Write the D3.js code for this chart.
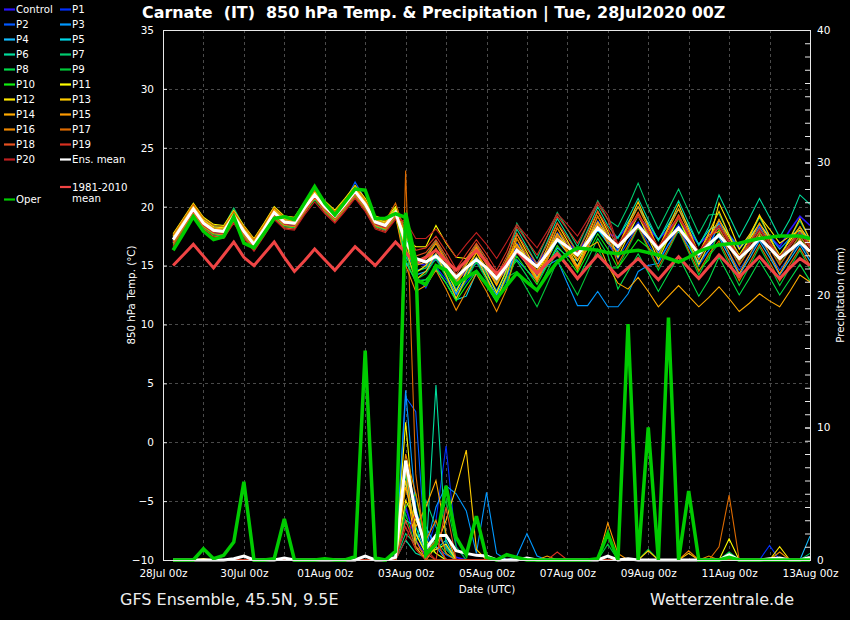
<!DOCTYPE html>
<html>
<head>
<meta charset="utf-8">
<script src="https://cdn.jsdelivr.net/npm/d3@7"></script>
<style>
  body { margin: 0; background: #000; }
  svg { display: block; font-family: "DejaVu Sans", sans-serif; }
</style>
</head>
<body>
<svg id="chart" width="850" height="620"></svg>
<script>
// forecast steps, hours after 28Jul2020 00Z
const HOURS = [6,12,18,24,30,36,42,48,54,60,66,72,78,84,90,96,102,108,114,120,126,132,138,
  144,150,156,162,168,174,180,186,192,198,204,210,216,222,228,234,240,246,252,258,264,270,276,282,288,
  294,300,306,312,318,324,330,336,342,348,354,360,366,372,378,384];

// 850 hPa temperature (°C)
const T_CONTROL = [17.0,18.3,19.6,18.4,17.8,17.7,19.0,17.7,16.6,17.9,19.3,18.5,18.4,19.7,20.8,19.8,19.0,20.0,21.1,20.0,18.5,18.2,19.3,
  17.3,15.3,15.0,15.5,14.7,13.7,14.5,15.2,14.5,13.6,14.7,16.6,15.9,15.2,16.3,17.5,16.9,16.2,17.3,18.5,17.7,
  17.4,18.3,19.2,18.2,17.2,18.1,19.0,17.9,16.8,17.6,18.6,17.6,16.6,17.4,18.3,17.5,16.6,18.0,19.2,18.4];
const T_P1 = [17.3,18.6,19.9,18.7,18.1,18.0,19.3,18.0,16.9,18.2,19.6,18.8,18.7,20.0,21.1,20.1,19.3,20.3,21.4,20.3,18.8,18.5,19.6,
  16.0,14.1,13.1,14.9,13.8,12.5,13.6,14.6,13.6,12.4,13.8,16.9,15.9,14.9,16.3,17.8,16.9,15.9,17.3,18.8,17.7,
  16.3,17.5,18.7,17.4,16.1,17.3,18.5,17.1,15.7,16.8,18.4,17.1,15.8,16.9,18.1,17.0,15.8,16.8,17.8,16.7];
const T_P2 = [17.1,18.4,19.7,18.5,17.9,17.8,19.1,17.8,16.7,18.0,19.4,18.6,18.5,19.8,20.9,19.9,19.1,20.4,22.1,20.6,18.4,18.0,19.2,
  16.2,14.6,14.8,15.8,14.5,13.0,14.3,15.5,14.3,12.9,14.5,16.3,15.1,13.9,15.5,17.2,16.1,14.9,16.5,18.2,16.9,
  15.6,17.0,18.4,16.9,15.4,16.8,18.2,16.6,15.0,16.3,17.6,16.1,14.6,15.9,17.3,16.0,14.6,15.8,17.0,15.7];
const T_P3 = [17.4,18.7,20.0,18.8,18.2,18.1,19.4,18.1,17.0,18.3,19.7,18.9,18.8,20.1,21.2,20.2,19.4,20.4,21.5,20.4,18.9,18.6,19.7,
  15.0,15.4,15.3,16.0,15.0,13.8,14.8,15.7,14.8,13.7,15.0,15.5,14.6,13.7,15.0,15.5,13.5,11.6,11.6,12.8,11.5,
  11.5,12.6,14.5,15.0,15.2,16.8,17.9,16.6,15.3,16.3,18.8,17.6,16.4,17.4,18.5,17.5,16.4,17.3,18.2,17.2];
const T_P4 = [16.9,18.2,19.5,18.3,17.7,17.6,18.9,17.6,16.5,17.8,19.2,18.4,18.3,19.6,20.7,19.7,18.9,19.9,21.0,19.9,18.4,18.1,19.2,
  15.8,14.2,14.5,15.6,14.2,12.6,14.0,15.3,14.0,12.5,14.2,16.2,15.5,14.0,15.0,16.5,15.8,15.4,16.8,18.0,17.0,
  16.2,17.7,19.2,17.6,16.0,17.5,19.0,17.3,15.6,17.0,17.4,15.8,14.2,15.6,17.1,15.7,14.2,15.5,16.8,15.4];
const T_P5 = [17.5,18.8,20.1,18.9,18.3,18.2,19.5,18.2,17.1,18.4,19.8,19.0,18.9,20.2,21.3,20.3,19.5,20.5,21.6,20.5,19.0,18.7,19.8,
  15.3,13.7,13.8,14.7,13.5,12.1,12.4,14.4,13.3,12.0,13.5,16.2,15.1,14.0,15.5,17.1,16.1,15.0,16.5,18.1,16.9,
  17.4,18.7,20.0,18.6,17.2,18.5,19.8,18.3,16.8,18.0,18.5,17.1,15.7,16.9,18.2,17.0,15.7,16.8,17.9,16.7];
const T_P6 = [17.2,18.5,19.8,18.6,18.0,17.9,19.2,17.9,16.8,18.1,19.5,18.7,18.6,19.9,21.0,20.0,19.2,20.2,21.3,20.2,18.7,18.4,19.5,
  17.5,15.3,15.8,17.1,15.5,13.7,15.3,16.8,15.3,13.6,15.5,18.1,16.6,15.1,17.0,19.0,17.6,16.1,18.0,20.0,18.4,
  17.3,19.0,20.7,18.9,17.1,18.8,20.5,18.6,16.7,18.3,21.0,19.2,17.4,19.0,20.7,19.1,17.4,18.9,21.0,20.2];
const T_P7 = [17.6,18.9,20.2,19.0,18.4,18.3,19.9,18.3,17.2,18.5,19.9,19.1,19.0,20.3,21.4,20.4,19.6,20.6,21.7,20.6,19.1,18.8,19.9,
  18.0,15.1,15.6,16.9,15.3,13.5,15.1,16.6,15.1,13.4,15.3,18.6,17.1,15.6,17.5,19.5,18.1,16.6,18.5,20.5,18.9,
  18.3,20.0,22.0,19.9,18.1,19.8,21.5,19.6,17.7,19.3,19.4,17.6,15.8,17.4,19.1,17.5,15.8,17.3,18.8,17.2];
const T_P8 = [16.8,18.1,19.4,18.2,17.6,17.5,18.8,17.5,16.4,17.7,19.1,18.3,18.2,19.5,20.6,19.6,18.8,19.8,20.9,19.8,18.3,18.0,19.1,
  16.5,14.5,14.8,15.9,14.5,12.9,14.3,15.6,14.3,12.8,14.5,15.4,14.1,12.8,14.5,16.3,15.1,13.8,15.5,17.3,15.9,
  13.0,14.5,16.0,14.4,12.8,14.3,15.8,14.1,12.4,13.8,15.7,14.1,12.5,13.9,15.4,14.0,12.5,13.8,15.1,13.7];
const T_P9 = [17.4,18.7,20.0,18.8,18.2,18.1,19.4,18.1,17.0,18.3,19.7,18.9,18.8,20.1,21.2,20.2,19.4,20.4,21.5,20.4,18.9,18.6,19.7,
  16.0,13.8,14.3,15.6,14.0,12.2,13.8,15.3,13.8,12.1,14.0,14.5,13.0,11.5,13.4,15.4,14.0,12.5,14.4,16.4,14.8,
  14.8,16.5,18.2,16.4,14.6,16.3,18.0,16.1,14.2,15.8,16.9,15.1,13.3,14.9,16.6,15.0,13.3,14.8,16.3,14.7];
const T_P10 = [16.9,18.2,19.5,18.3,17.7,17.6,18.9,17.6,16.5,17.8,19.2,18.4,18.3,19.6,20.7,19.7,18.9,19.9,21.0,19.9,18.4,18.1,19.2,
  15.5,13.6,13.8,14.8,13.5,12.0,13.3,14.5,13.3,11.9,13.5,15.8,14.6,13.4,15.0,16.7,15.6,14.4,16.0,17.7,16.4,
  14.8,16.0,17.2,16.5,15.8,17.4,19.0,17.0,14.6,15.5,18.1,16.6,15.1,16.4,17.8,16.5,15.1,16.3,17.5,16.2];
const T_P11 = [17.7,19.0,20.3,19.1,18.5,18.4,19.7,18.4,17.3,18.6,20.0,19.2,19.1,20.4,21.5,20.5,19.7,20.7,21.8,20.7,19.2,18.9,20.0,
  17.3,16.6,16.6,18.4,16.9,15.7,15.6,16.5,15.3,13.9,15.5,16.8,15.6,14.4,16.0,17.7,16.6,15.4,17.0,18.7,17.4,
  16.6,18.0,19.4,17.9,16.4,17.8,19.2,17.6,16.0,17.3,18.9,17.4,15.9,17.2,18.6,17.3,15.9,17.1,18.3,17.0];
const T_P12 = [17.5,18.8,20.1,18.9,18.3,18.2,19.5,18.2,17.1,18.4,19.8,19.0,18.9,20.2,21.3,20.3,19.5,20.5,21.6,20.5,19.0,18.7,19.8,
  17.0,14.4,15.0,16.4,14.7,12.8,14.5,16.1,14.5,12.7,14.7,17.7,16.1,14.5,16.5,18.6,17.1,15.5,17.5,19.6,17.9,
  15.7,17.5,19.3,17.4,15.5,17.3,19.1,17.1,15.1,16.8,20.3,18.5,16.4,17.6,19.2,18.1,16.9,17.5,18.0,17.1];
const T_P13 = [17.1,18.4,19.7,18.5,17.9,17.8,19.1,17.8,16.7,18.0,19.4,18.6,18.5,19.8,20.9,19.9,19.1,20.1,21.2,20.1,18.6,18.3,19.4,
  16.4,13.8,14.5,16.0,14.2,12.2,14.0,15.7,14.0,12.1,14.2,17.3,15.6,13.9,16.0,18.2,16.6,14.9,17.0,19.2,17.4,
  16.6,18.5,20.4,18.4,16.4,18.3,20.2,18.1,16.0,17.8,19.6,17.6,15.6,17.4,19.3,17.5,15.6,17.3,19.0,17.2];
const T_P14 = [17.3,18.6,19.9,18.7,18.1,18.0,19.3,18.0,16.9,18.2,19.6,18.8,18.7,20.0,21.1,20.1,19.3,20.3,21.4,20.3,18.8,18.5,19.6,
  17.0,15.0,15.3,16.4,15.0,13.4,14.8,16.1,14.8,13.3,15.0,16.4,15.1,13.8,15.5,17.3,16.1,14.8,16.5,17.0,15.0,
  13.5,13.0,14.0,12.8,11.5,12.4,13.3,12.4,11.5,12.3,13.2,12.2,11.1,11.8,12.6,12.0,11.5,12.8,14.2,13.6];
const T_P15 = [17.4,18.7,20.0,18.8,18.2,18.1,19.4,18.1,17.0,18.3,19.7,18.9,18.8,20.1,21.2,20.2,19.4,20.4,21.5,20.4,18.9,18.6,19.7,
  17.8,15.1,15.6,16.9,15.3,13.5,15.1,16.6,15.1,13.4,15.3,16.8,15.3,13.8,15.7,17.7,16.3,14.8,16.7,18.7,17.1,
  16.6,18.3,20.0,18.2,16.4,18.1,19.8,17.9,16.0,17.6,17.9,16.1,14.3,15.9,17.6,16.0,14.3,15.8,17.3,15.7];
const T_P16 = [16.9,18.2,19.5,18.3,17.7,17.6,18.9,17.6,16.5,17.8,19.2,18.4,18.3,19.6,20.7,19.7,18.9,19.9,21.0,19.9,18.4,18.1,19.2,
  15.0,12.8,13.3,14.6,13.0,11.2,12.8,14.3,12.8,11.1,13.0,16.6,15.1,13.6,15.5,17.5,16.1,14.6,16.5,18.5,16.9,
  16.1,17.8,19.5,17.7,15.9,17.6,19.3,17.4,15.5,17.1,18.9,17.1,15.3,16.9,18.6,17.0,15.3,16.8,18.3,16.7];
const T_P17 = [17.6,18.9,20.2,19.0,18.4,18.3,19.6,18.3,17.2,18.5,19.9,19.1,19.0,20.3,21.4,20.4,19.6,20.6,21.7,20.6,19.1,18.8,20.3,
  17.8,15.4,15.8,17.0,15.5,13.8,15.3,16.7,15.3,13.7,15.5,17.3,15.9,14.5,16.3,18.2,16.9,15.5,17.3,19.2,17.7,
  15.1,16.7,18.3,16.6,14.9,16.5,18.1,16.3,14.5,16.0,17.1,15.4,13.7,15.2,16.8,15.3,13.7,15.1,16.5,15.0];
const T_P18 = [16.7,18.0,19.3,18.1,17.5,17.4,18.7,17.4,16.3,17.6,19.0,18.2,18.1,19.4,20.9,19.5,18.7,19.7,20.8,19.7,18.2,17.9,19.0,
  18.2,15.8,16.1,17.2,15.8,14.2,15.6,16.9,15.6,14.1,15.8,17.7,16.4,15.1,16.8,18.6,17.4,16.1,17.8,19.6,18.2,
  16.5,18.0,19.5,17.9,16.3,17.8,19.3,17.6,15.9,17.3,18.2,16.6,15.0,16.4,17.9,16.5,15.0,16.3,17.6,16.2];
const T_P19 = [17.0,18.3,19.6,18.4,17.8,17.7,19.0,17.7,16.6,17.9,19.3,18.5,18.4,19.7,20.8,19.8,19.0,20.0,21.1,20.0,18.5,18.2,19.3,
  18.5,16.3,16.5,17.5,16.2,14.7,16.0,17.2,16.0,14.6,16.2,18.3,17.1,15.9,17.5,19.2,18.1,16.9,18.5,20.2,18.9,
  16.6,18.0,19.4,17.9,16.4,17.8,19.2,17.6,16.0,17.3,18.4,16.9,15.4,16.7,18.1,16.8,15.4,16.6,17.8,16.5];
const T_P20 = [16.6,17.9,19.2,18.0,17.4,17.3,18.6,17.3,16.2,17.5,18.9,18.1,18.0,19.3,20.4,19.4,18.6,19.6,20.7,19.6,18.1,17.8,18.9,
  18.8,17.3,17.3,18.1,17.0,15.7,16.8,17.8,16.8,15.6,17.0,18.5,17.5,16.5,17.9,19.4,18.5,17.5,18.9,20.4,19.3,
  16.8,18.0,19.2,17.9,16.6,17.8,19.0,17.6,16.2,17.3,18.4,17.1,15.8,16.9,18.1,17.0,15.8,16.8,17.8,16.7];
const T_ENS_MEAN = [17.2,18.5,19.8,18.6,18.0,17.9,19.2,17.9,16.8,18.1,19.5,18.7,18.6,19.9,21.0,20.0,19.2,20.2,21.3,20.2,18.7,18.4,19.5,
  17.0,15.6,15.3,15.8,15.0,14.0,14.8,15.5,14.8,13.9,15.0,16.3,15.6,14.9,16.0,17.2,16.6,15.9,17.0,18.2,17.4,
  16.6,17.5,18.4,17.4,16.4,17.3,18.2,17.1,16.0,16.8,17.6,16.6,15.6,16.4,17.3,16.5,15.6,16.3,17.0,16.2];
const T_CLIMATE = [15.0,15.9,16.8,15.8,14.8,15.9,17.0,15.7,15.0,16.0,17.0,15.7,14.5,15.4,16.4,15.5,14.6,15.6,16.6,15.8,15.0,16.0,17.0,
  16.1,15.2,15.7,16.3,15.4,14.6,15.4,16.3,15.3,14.3,15.2,16.2,15.3,14.35,15.2,16.0,15.0,13.9,14.9,15.9,15.0,
  14.05,14.8,15.6,14.7,13.8,14.8,15.75,14.8,13.9,14.9,15.9,15.0,14.05,14.9,15.75,14.8,13.9,14.8,15.6,15.0];
const T_OPER = [16.3,17.7,19.15,17.9,17.2,17.45,19.15,16.9,16.5,17.75,19.0,19.15,18.9,20.3,21.7,20.3,19.3,20.4,21.5,21.4,19.0,19.0,19.4,
  19.1,13.8,13.4,15.0,14.6,13.4,14.0,14.5,13.4,12.2,13.3,14.35,13.6,12.9,14.2,15.3,16.0,16.5,16.4,16.3,16.1,
  16.0,16.2,16.3,16.1,15.9,15.6,15.3,15.7,16.2,16.5,16.75,16.85,16.9,17.1,17.3,17.4,17.5,17.5,17.5,17.3];

// 6-hourly precipitation (mm), [hour, value]; all other steps are 0
const P_CONTROL = [[138,0.5],[144,4.0],[150,1.5],[156,0.3],[162,2.0],[168,1.0],[174,0.2]];
const P_P1 = [[144,6.0],[150,2.0],[156,0.5],[162,3.0],[168,8.6],[174,1.0],[360,1.1]];
const P_P2 = [[144,12.3],[150,11.2],[156,0.5],[162,1.0],[168,0.4]];
const P_P3 = [[144,12.8],[150,4.0],[156,0.8],[162,4.0],[168,5.6],[174,5.0],[180,3.7],[186,0.5],[192,5.1],[198,0.5],[210,0.3],[216,2.0],[222,0.3]];
const P_P4 = [[144,7.0],[150,1.5],[156,2.5],[162,1.0],[384,1.8]];
const P_P5 = [[144,3.0],[150,2.5],[156,0.5],[162,0.8],[168,1.5]];
const P_P6 = [[144,1.5],[150,0.5],[156,0.2],[162,13.2],[168,1.0]];
const P_P7 = [[144,2.0],[150,1.2],[156,4.5],[162,2.5],[168,0.8],[384,0.5]];
const P_P8 = [[144,6.5],[150,2.0],[156,0.5],[162,1.5],[168,0.5],[336,0.6]];
const P_P9 = [[144,3.5],[150,1.0],[162,2.0],[168,4.5],[174,1.0],[264,1.2],[288,0.8]];
const P_P10 = [[144,4.0],[150,5.0],[156,1.0],[162,0.5]];
const P_P11 = [[48,0.35],[144,10.4],[150,2.0],[156,0.5],[162,0.8],[168,1.2],[336,1.6]];
const P_P12 = [[24,0.1],[144,4.5],[150,3.0],[156,1.5],[162,0.5],[366,1.0]];
const P_P13 = [[120,0.3],[144,6.0],[150,1.0],[162,1.0],[168,3.0],[174,5.5],[180,8.3],[186,0.8],[288,0.7],[312,0.5]];
const P_P14 = [[144,5.5],[150,2.5],[156,4.0],[162,6.0],[168,2.0]];
const P_P15 = [[144,7.0],[150,1.5],[228,0.3],[264,2.8],[270,0.5]];
const P_P16 = [[144,8.0],[150,5.0],[156,1.5],[162,3.0],[168,0.5],[312,0.7],[324,0.3],[366,0.6]];
const P_P17 = [[144,29.4],[150,6.5],[156,0.5],[162,1.5],[330,1.0],[336,4.9]];
const P_P18 = [[144,3.0],[150,1.0],[156,0.5],[168,4.0]];
const P_P19 = [[144,2.5],[150,0.8],[162,1.5],[234,0.6]];
const P_P20 = [[144,1.5],[150,3.5],[156,0.8]];
const P_ENS_MEAN = [[42,0.1],[48,0.3],[72,0.15],[120,0.3],[138,0.2],[144,7.5],[150,3.5],[156,0.85],[162,1.85],[168,1.85],
  [174,0.7],[180,0.5],[186,0.35],[192,0.3],[216,0.15],[264,0.3],[276,0.1],[336,0.4],[360,0.1],[366,0.15],[384,0.2]];
const P_OPER = [[24,0.85],[30,0.1],[36,0.35],[42,1.35],[48,5.9],[66,0.1],[72,3.1],[96,0.1],[114,0.25],[120,15.8],[126,0.15],
  [138,0.65],[144,26.2],[150,22.6],[156,0.4],[162,1.2],[168,5.6],[174,1.7],[180,0.4],[186,3.3],[192,0.2],[204,0.4],[210,0.2],
  [258,0.1],[264,2.0],[276,17.8],[288,10.0],[300,18.3],[312,5.2],[336,0.2]];

const MEMBER_NAMES = ["Control","P1","P2","P3","P4","P5","P6","P7","P8","P9","P10",
  "P11","P12","P13","P14","P15","P16","P17","P18","P19","P20"];
const MEMBER_COLORS = ["#2a14ff","#0030ff","#0058ff","#0098ff","#14bcff","#00d8e8","#00dc9c","#00cc70","#00dc48","#00c838","#10ee10",
  "#ffff00","#ffe800","#ffcc00","#ffaa00","#ff9a00","#ee8800","#dd6a00","#e65020","#d83020","#c02020"];
const MEMBER_TEMP = [T_CONTROL,T_P1,T_P2,T_P3,T_P4,T_P5,T_P6,T_P7,T_P8,T_P9,T_P10,
  T_P11,T_P12,T_P13,T_P14,T_P15,T_P16,T_P17,T_P18,T_P19,T_P20];
const MEMBER_PREC = [P_CONTROL,P_P1,P_P2,P_P3,P_P4,P_P5,P_P6,P_P7,P_P8,P_P9,P_P10,
  P_P11,P_P12,P_P13,P_P14,P_P15,P_P16,P_P17,P_P18,P_P19,P_P20];

const TEMP_TICKS = [-10,-5,0,5,10,15,20,25,30,35];
const PREC_TICKS = [0,10,20,30,40];
const DATE_TICK_DAYS = [0,2,4,6,8,10,12,14,16];

const START = Date.UTC(2020, 6, 28, 0);
const toDate = h => new Date(START + h * 3600e3);

const svg = d3.select("#chart");
const W = 850, H = 620;
const plot = { left: 163, right: 810, top: 30, bottom: 560 };

svg.append("rect").attr("width", W).attr("height", H).attr("fill", "#000");

const x = d3.scaleUtc().domain([toDate(0), toDate(384)]).range([plot.left, plot.right]);
const yT = d3.scaleLinear().domain([-10, 35]).range([plot.bottom, plot.top]);
const yP = d3.scaleLinear().domain([0, 40]).range([plot.bottom, plot.top]);

// --- grid ---
const grid = svg.append("g").attr("stroke", "#4a4a4a").attr("stroke-dasharray", "3,3").attr("stroke-width", 1);
grid.selectAll("line.h").data(TEMP_TICKS.slice(1, -1)).enter().append("line")
  .attr("x1", plot.left).attr("x2", plot.right)
  .attr("y1", d => Math.round(yT(d)) + 0.5).attr("y2", d => Math.round(yT(d)) + 0.5);
grid.selectAll("line.v").data(d3.range(1, 16)).enter().append("line")
  .attr("x1", d => Math.round(x(toDate(d * 24))) + 0.5).attr("x2", d => Math.round(x(toDate(d * 24))) + 0.5)
  .attr("y1", plot.top).attr("y2", plot.bottom);

// --- series ---
const lineT = d3.line().x((d, i) => x(toDate(HOURS[i]))).y(d => yT(d));
const lineP = d3.line().x((d, i) => x(toDate(HOURS[i]))).y(d => yP(d));
const dense = sparse => {
  const m = new Map(sparse);
  return HOURS.map(h => m.get(h) || 0);
};

const g = svg.append("g").attr("fill", "none").attr("stroke-linejoin", "miter");

MEMBER_PREC.forEach((p, i) => {
  g.append("path").attr("d", lineP(dense(p)))
    .attr("stroke", MEMBER_COLORS[i]).attr("stroke-width", i === 0 ? 1.6 : 1.1);
});
MEMBER_TEMP.forEach((t, i) => {
  g.append("path").attr("d", lineT(t))
    .attr("stroke", MEMBER_COLORS[i]).attr("stroke-width", i === 0 ? 1.6 : 1.1);
});

g.append("path").attr("d", lineT(T_CLIMATE)).attr("stroke", "#f04444").attr("stroke-width", 3);
g.append("path").attr("d", lineP(dense(P_ENS_MEAN))).attr("stroke", "#fff").attr("stroke-width", 3);
g.append("path").attr("d", lineT(T_ENS_MEAN)).attr("stroke", "#fff").attr("stroke-width", 3);
g.append("path").attr("d", lineP(dense(P_OPER))).attr("stroke", "#00cc00").attr("stroke-width", 3.5);
g.append("path").attr("d", lineT(T_OPER)).attr("stroke", "#00cc00").attr("stroke-width", 3.5);

// --- frame and axes ---
svg.append("rect")
  .attr("x", plot.left + 0.5).attr("y", plot.top + 0.5)
  .attr("width", plot.right - plot.left).attr("height", plot.bottom - plot.top)
  .attr("fill", "none").attr("stroke", "#e8e8e8").attr("stroke-width", 1);

const styleAxis = sel => {
  sel.select(".domain").remove();
  sel.selectAll("line").attr("stroke", "#e8e8e8");
  sel.selectAll("text").attr("fill", "#fff").attr("font-family", "DejaVu Sans").attr("font-size", 10.5);
};

svg.append("g").attr("transform", `translate(${plot.left},0)`)
  .call(d3.axisLeft(yT).tickValues(TEMP_TICKS).tickSize(-4).tickPadding(9))
  .call(styleAxis);

svg.append("g").attr("transform", `translate(${plot.right},0)`)
  .call(d3.axisRight(yP).tickValues(d3.range(0, 41)).tickSize(-5).tickFormat(""))
  .call(styleAxis);
svg.append("g").attr("transform", `translate(${plot.right},0)`)
  .call(d3.axisRight(yP).tickValues(PREC_TICKS).tickSize(-5).tickPadding(7))
  .call(styleAxis);

svg.append("g").attr("transform", `translate(0,${plot.bottom})`)
  .call(d3.axisBottom(x).tickValues(DATE_TICK_DAYS.map(d => toDate(d * 24)))
    .tickSize(0).tickPadding(10).tickFormat(d3.utcFormat("%d%b %Hz")))
  .call(styleAxis);

// --- titles ---
svg.append("text").attr("x", 142).attr("y", 17.5)
  .attr("xml:space", "preserve").style("white-space", "pre")
  .attr("fill", "#fff").attr("font-weight", "bold").attr("font-size", 15.9)
  .text("Carnate  (IT)  850 hPa Temp. & Precipitation | Tue, 28Jul2020 00Z");

svg.append("text").attr("transform", "translate(135,295) rotate(-90)")
  .attr("text-anchor", "middle").attr("fill", "#fff").attr("font-size", 10.3)
  .text("850 hPa Temp. (°C)");
svg.append("text").attr("transform", "translate(844,295) rotate(-90)")
  .attr("text-anchor", "middle").attr("fill", "#fff").attr("font-size", 10.3)
  .text("Precipitation (mm)");
svg.append("text").attr("x", 487).attr("y", 593)
  .attr("text-anchor", "middle").attr("fill", "#fff").attr("font-size", 10.3)
  .text("Date (UTC)");

svg.append("text").attr("x", 120).attr("y", 605)
  .attr("fill", "#eee").attr("font-size", 16).text("GFS Ensemble, 45.5N, 9.5E");
svg.append("text").attr("x", 650).attr("y", 605)
  .attr("fill", "#eee").attr("font-size", 16).text("Wetterzentrale.de");

// --- legend ---
const legend = svg.append("g").attr("font-size", 10.2).attr("fill", "#fff");
const legendItem = (lx, ly, color, label) => {
  legend.append("line").attr("x1", lx).attr("x2", lx + 11).attr("y1", ly).attr("y2", ly)
    .attr("stroke", color).attr("stroke-width", 2.2);
  const t = legend.append("text").attr("x", lx + 12).attr("y", ly + 3.7);
  label.forEach((s, k) => t.append("tspan").attr("x", lx + 12).attr("dy", k ? 11 : 0).text(s));
};
MEMBER_NAMES.forEach((n, i) => {
  const col = i % 2, row = Math.floor(i / 2);
  legendItem(col ? 60 : 4, 9.5 + row * 15, MEMBER_COLORS[i], [n]);
});
legendItem(60, 159.5, "#fff", ["Ens. mean"]);
legendItem(60, 187, "#f04444", ["1981-2010", "mean"]);
legendItem(4, 199.5, "#00cc00", ["Oper"]);
</script>
</body>
</html>
